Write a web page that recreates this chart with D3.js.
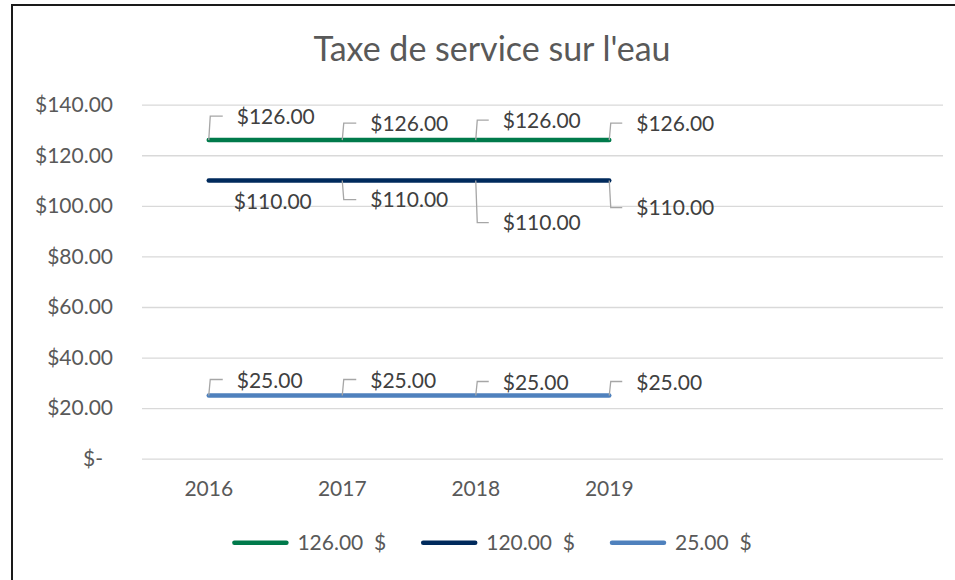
<!DOCTYPE html>
<html>
<head>
<meta charset="utf-8">
<script src="https://cdn.jsdelivr.net/npm/d3@7"></script>
<style>
    body { margin: 0; background: #fff; }
    svg { display: block; font-family: Lato, "Liberation Sans", sans-serif; }
</style>
</head>
<body>
<div id="chart"></div>
<script>
// categories (the chart keeps two empty slots after 2019)
let years = ['2016', '2017', '2018', '2019', '', ''];

let seriesNames = ['126.00\u00a0\u00a0$', '120.00\u00a0\u00a0$', '25.00\u00a0\u00a0$'];
let seriesColors = ['#007A4B', '#002A5C', '#4F81BD'];

let green = [126, 126, 126, 126];
let navy = [110, 110, 110, 110];
let blue = [25, 25, 25, 25];

let yTicks = [0, 20, 40, 60, 80, 100, 120, 140];

// label placement relative to the point (dx to text start, dy to text middle)
let greenLabelOffsets = [[28, -23], [28, -16], [27, -19], [27, -16]];
let navyLabelOffsets = [[25, 21], [28, 19], [27, 42], [27, 27]];
let blueLabelOffsets = [[28, -15], [28, -15], [27, -13], [27, -13]];
let navyLeaders = [false, true, true, true];

let width = 955,
    height = 580;

let svg = d3.select('#chart')
    .append('svg')
    .attr('width', width)
    .attr('height', height);

svg.append('rect')
    .attr('width', width)
    .attr('height', height)
    .attr('fill', '#fff');

// chart border (runs off the right and bottom of the picture)
svg.append('rect')
    .attr('x', 12)
    .attr('y', 5)
    .attr('width', 980)
    .attr('height', 620)
    .attr('fill', 'none')
    .attr('stroke', '#1a1a1a')
    .attr('stroke-width', 2);

let x = d3.scaleBand()
    .domain(d3.range(years.length))
    .range([142, 943]);

let y = d3.scaleLinear()
    .domain([0, 140])
    .range([458.7, 104.7]);

let cx = i => x(i) + x.bandwidth() / 2;

// title
svg.append('text')
    .attr('x', 492)
    .attr('y', 61)
    .attr('text-anchor', 'middle')
    .attr('fill', '#595959')
    .style('font-size', '34px')
    .text("Taxe de service sur l'eau");

// y axis with gridlines
let yAxis = svg.append('g')
    .attr('transform', 'translate(142,0)')
    .call(d3.axisLeft(y)
        .tickValues(yTicks)
        .tickSize(-(943 - 142))
        .tickPadding(29)
        .tickFormat(d => d === 0 ? '$-' : '$' + d3.format('.2f')(d)));

yAxis.select('.domain').remove();
yAxis.selectAll('.tick line')
    .attr('stroke', '#d9d9d9')
    .attr('stroke-width', 1.3);
yAxis.selectAll('.tick text')
    .attr('fill', '#595959')
    .style('font-size', '21px')
    .style('font-family', 'Lato, sans-serif');
// accounting format pads the dash
yAxis.selectAll('.tick text')
    .filter(d => d === 0)
    .attr('dx', -10);

// x axis labels
let xAxis = svg.append('g')
    .attr('transform', 'translate(0,' + 478 + ')')
    .call(d3.axisBottom(x)
        .tickSize(0)
        .tickPadding(0)
        .tickFormat(i => years[i]));

xAxis.select('.domain').remove();
xAxis.selectAll('.tick text')
    .attr('fill', '#595959')
    .attr('dy', '0.35em')
    .attr('y', 11)
    .style('font-size', '21px')
    .style('font-family', 'Lato, sans-serif');

let line = d3.line()
    .x((d, i) => cx(i))
    .y(d => y(d));

let series = [
    { values: green, color: seriesColors[0], offsets: greenLabelOffsets, leaders: [true, true, true, true] },
    { values: navy, color: seriesColors[1], offsets: navyLabelOffsets, leaders: navyLeaders },
    { values: blue, color: seriesColors[2], offsets: blueLabelOffsets, leaders: [true, true, true, true] }
];

let plot = svg.append('g');

series.forEach(function(s) {
    plot.append('path')
        .datum(s.values)
        .attr('d', line)
        .attr('fill', 'none')
        .attr('stroke', s.color)
        .attr('stroke-width', 4.5)
        .attr('stroke-linecap', 'round');
});

// data labels with leader lines
series.forEach(function(s) {
    s.values.forEach(function(v, i) {
        let px = cx(i),
            py = y(v),
            tx = px + s.offsets[i][0],
            ty = py + s.offsets[i][1];
        if (s.leaders[i]) {
            let cy = ty + (s.offsets[i][1] < 0 ? -1 : 0);
            plot.append('path')
                .attr('d', 'M' + px + ',' + py + 'L' + (px + 1.5) + ',' + cy + 'H' + (tx - 14))
                .attr('fill', 'none')
                .attr('stroke', '#a6a6a6')
                .attr('stroke-width', 1.3);
        }
        plot.append('text')
            .attr('x', tx)
            .attr('y', ty)
            .attr('dy', '0.35em')
            .attr('fill', '#404040')
            .style('font-size', '21px')
            .text('$' + d3.format('.2f')(v));
    });
});

// legend
let legend = svg.append('g')
    .attr('transform', 'translate(0,542.7)');

let xPos = 0;
seriesNames.forEach(function(name, i) {
    let item = legend.append('g').attr('transform', 'translate(' + xPos + ',0)');
    item.append('line')
        .attr('x1', 2)
        .attr('x2', 54)
        .attr('stroke', seriesColors[i])
        .attr('stroke-width', 4.5)
        .attr('stroke-linecap', 'round');
    let t = item.append('text')
        .attr('x', 65)
        .attr('dy', '0.35em')
        .attr('fill', '#595959')
        .style('font-size', '21px')
        .text(name);
    xPos += 65 + t.node().getComputedTextLength() + 35;
});
let legendWidth = xPos - 35;
legend.attr('transform', 'translate(' + (492 - legendWidth / 2) + ',542.7)');
</script>
</body>
</html>
